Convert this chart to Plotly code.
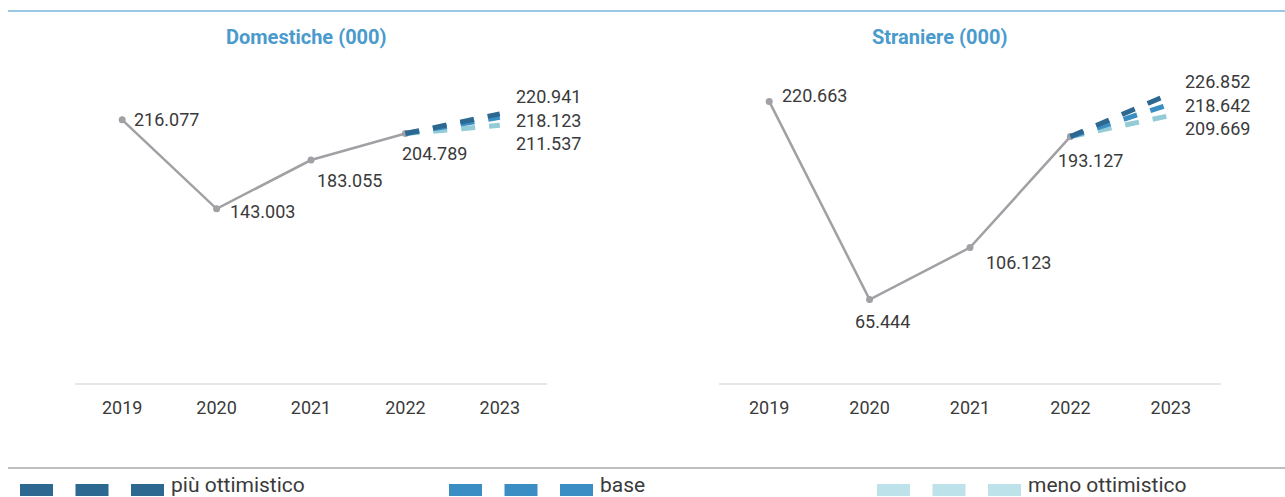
import plotly.graph_objects as go

years = ["2019", "2020", "2021", "2022", "2023"]
actual_years = ["2019", "2020", "2021", "2022"]
proj_years = ["2022", "2023"]

dom_actual = [216.077, 143.003, 183.055, 204.789]
dom_piu = 220.941
dom_base = 218.123
dom_meno = 211.537

str_actual = [220.663, 65.444, 106.123, 193.127]
str_piu = 226.852
str_base = 218.642
str_meno = 209.669

scenario_names = ["più ottimistico", "base", "meno ottimistico"]
scenario_line_colors = ["#2c6890", "#3b8ec3", "#93cbd7"]
scenario_legend_colors = ["#2c6890", "#3b8ec3", "#bde2ea"]

W, H = 1285, 497
FONT = "Roboto"
TXT = "#3a3a3a"
GREY = "#a0a0a5"


def px(x):
    return x / W


def py(y):
    return (H - y) / H


fig = go.Figure()

panels = [
    ("x", "y", dom_actual, [dom_piu, dom_base, dom_meno]),
    ("x2", "y2", str_actual, [str_piu, str_base, str_meno]),
]

for xa, ya, act, scen in panels:
    fig.add_trace(go.Scatter(
        x=actual_years, y=act, xaxis=xa, yaxis=ya, mode="lines+markers",
        line=dict(color=GREY, width=2.5), marker=dict(color=GREY, size=7),
        showlegend=False, hoverinfo="skip"))
    # draw light first, dark on top
    for i in [2, 1, 0]:
        fig.add_trace(go.Scatter(
            x=proj_years, y=[act[-1], scen[i]], xaxis=xa, yaxis=ya, mode="lines",
            line=dict(color=scenario_line_colors[i], width=5, dash="14px,14px"),
            name=scenario_names[i], showlegend=False, hoverinfo="skip"))

ann = []


def lab(xa, ya, cat, yv, xs, ys, anchor="left"):
    ann.append(dict(x=years.index(cat), y=yv, xref=xa, yref=ya, text=f"{yv:.3f}",
                    showarrow=False, xanchor=anchor, yanchor="middle", xshift=xs, yshift=ys,
                    borderpad=0, borderwidth=0,
                    font=dict(family=FONT, size=18, color=TXT)))


# Domestiche labels
lab("x", "y", years[0], dom_actual[0], 12, 0)
lab("x", "y", years[1], dom_actual[1], 13, -3)
lab("x", "y", years[2], dom_actual[2], 6, -20)
lab("x", "y", years[3], dom_actual[3], -3, -20)
lab("x", "y", years[4], dom_piu, 16, 17)
lab("x", "y", years[4], dom_base, 16, -3)
lab("x", "y", years[4], dom_meno, 16, -18)

# Straniere labels
lab("x2", "y2", years[0], str_actual[0], 13, 6)
lab("x2", "y2", years[1], str_actual[1], 13, -22, "center")
lab("x2", "y2", years[2], str_actual[2], 16, -15)
lab("x2", "y2", years[3], str_actual[3], -12, -24)
lab("x2", "y2", years[4], str_piu, 14, 12)
lab("x2", "y2", years[4], str_base, 14, -1)
lab("x2", "y2", years[4], str_meno, 14, -13)

# Titles
for cx, t in [(306, "Domestiche (000)"), (940, "Straniere (000)")]:
    ann.append(dict(x=px(cx), y=py(37), xref="paper", yref="paper", text=f"<b>{t}</b>",
                    showarrow=False, xanchor="center", yanchor="middle",
                    font=dict(family=FONT, size=20, color="#4a9bcc")))

shapes = [
    dict(type="line", xref="paper", yref="paper", x0=px(8), x1=1, y0=py(11), y1=py(11),
         line=dict(color="#78b4d8", width=1.5)),
    dict(type="line", xref="paper", yref="paper", x0=px(8), x1=1, y0=py(468), y1=py(468),
         line=dict(color="#a8a8a8", width=1.5)),
]

# Legend (manual)
legend_starts = [20, 449, 877]
for name, col, x0 in zip(scenario_names, scenario_legend_colors, legend_starts):
    for k in range(3):
        a = x0 + k * 55.5
        shapes.append(dict(type="rect", xref="paper", yref="paper",
                           x0=px(a), x1=px(a + 33), y0=py(496), y1=py(484),
                           fillcolor=col, line=dict(width=0)))
    ann.append(dict(x=px(x0 + 151), y=py(485), xref="paper", yref="paper", text=name,
                    showarrow=False, xanchor="left", yanchor="middle",
                    borderpad=0, borderwidth=0,
                    font=dict(family=FONT, size=21, color=TXT)))

axis_common = dict(type="category", range=[-0.5, 4.5], showgrid=False, zeroline=False,
                   showline=True, linecolor="#e6e6e6", linewidth=1.5, ticks="",
                   ticklabelstandoff=8,
                   tickfont=dict(family=FONT, size=18, color=TXT), fixedrange=True)

fig.update_layout(
    width=W, height=H,
    margin=dict(l=0, r=0, t=0, b=0),
    paper_bgcolor="white", plot_bgcolor="white",
    xaxis=dict(domain=[px(75), px(547)], anchor="y", categoryarray=years,
               categoryorder="array", **axis_common),
    yaxis=dict(domain=[py(383), py(78.5)], range=[0, 250], visible=False, anchor="x"),
    xaxis2=dict(domain=[px(719), px(1221)], anchor="y2", categoryarray=years,
                categoryorder="array", **axis_common),
    yaxis2=dict(domain=[py(383), py(64)], range=[0, 250], visible=False, anchor="x2"),
    annotations=ann,
    shapes=shapes,
    showlegend=False,
    font=dict(family=FONT),
)

fig.write_html("out.html")
